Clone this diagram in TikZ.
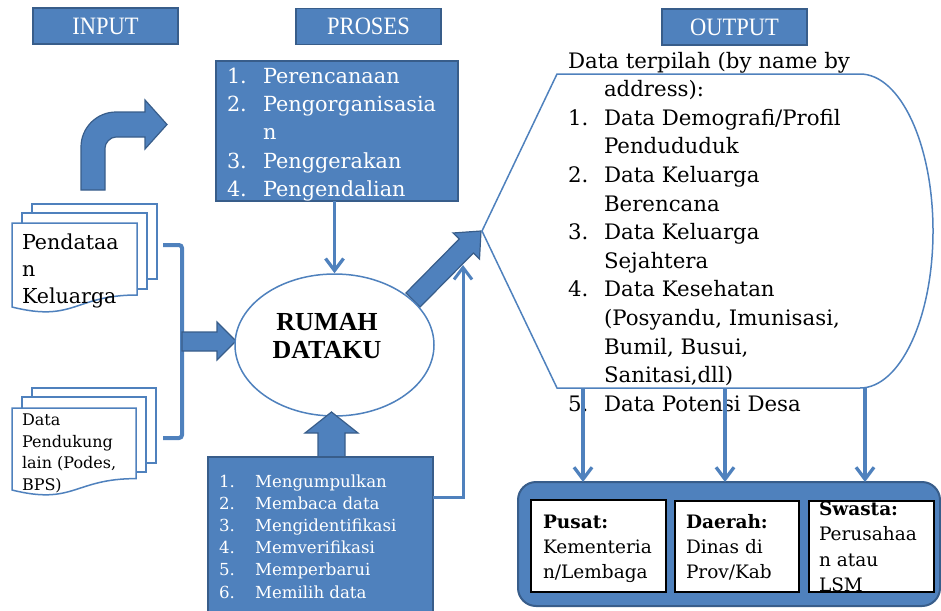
\documentclass[tikz,border=0pt]{standalone}
\usepackage{fontspec}
\setmainfont{DejaVu Serif}
\newfontfamily\timesf{Liberation Serif}
\newfontfamily\hdrfont[FakeStretch=0.9]{Liberation Serif}
\usetikzlibrary{arrows.meta,shapes.geometric}
\definecolor{bfill}{HTML}{4F81BD}
\definecolor{bdraw}{HTML}{385D8A}
\begin{document}
\begin{tikzpicture}[x=1pt,y=-1pt,
  bluebox/.style={draw=bdraw, fill=bfill, line width=1.2pt, inner sep=0pt, outer sep=0pt},
  hdr/.style={bluebox, minimum width=145pt, minimum height=36pt, text=white, font=\hdrfont\fontsize{25}{25}\selectfont},
  blockarrow/.style={draw=bdraw, fill=bfill, line width=1.2pt, line join=miter},
  thinarrow/.style={draw=bfill, line width=3.3pt, -{Straight Barb[length=12pt,width=18pt]}},
  docline/.style={draw=bfill, line width=1.5pt, fill=white},
  whitebox/.style={draw=black, fill=white, line width=1.6pt, inner sep=0pt, outer sep=0pt},
  txt/.style={anchor=base west, inner sep=0pt, outer sep=0pt},
]
\useasboundingbox (0,0) rectangle (941,610);

% headers
\node[hdr] (hin) at (105.5,26) {INPUT};
\node[hdr] (hpro) at (368.5,26.5) {PROSES};
\node[hdr] (hout) at (734.5,27) {OUTPUT};

% bent arrow
\draw[blockarrow] (81,190) -- (81,147) .. controls (81,127.7) and (96.7,112) .. (116,112)
  -- (145,112) -- (145,100) -- (167,124.5) -- (145,149) -- (145,137) -- (116,137)
  .. controls (109.9,137) and (105,143.1) .. (105,148) -- (105,190) -- cycle;

% document stack 1
\draw[docline] (32,204) rectangle (157,279);
\draw[docline] (22,213) rectangle (147,289);
\draw[docline] (12,223) -- (137,223) -- (137,295) .. controls (74.5,295) and (74.5,322.7) .. (12,307) -- cycle;
\begin{scope}[font=\fontsize{20.6}{24}\selectfont]
\node[txt] (d1a) at (22,249) {Pendataa};
\node[txt] (d1b) at (22,276) {n};
\node[txt] (d1c) at (22,303) {Keluarga};
\end{scope}

% document stack 2
\draw[docline] (32,388) rectangle (156,463);
\draw[docline] (22,397) rectangle (146,472);
\draw[docline] (12,408) -- (136,408) -- (136,478.6) .. controls (74,478.6) and (74,505.5) .. (12,490) -- cycle;
\begin{scope}[font=\fontsize{16}{20}\selectfont]
\node[txt] (d2a) at (22,425) {Data};
\node[txt] (d2b) at (22,447) {Pendukung};
\node[txt] (d2c) at (22,468.5) {lain (Podes,};
\node[txt] (d2d) at (22,490) {BPS)};
\end{scope}

% bracket and arrow to ellipse
\draw[draw=bfill, line width=4pt, rounded corners=3pt] (163,245) -- (182,245) -- (182,438) -- (163,438);
\draw[blockarrow] (182,332) -- (217,332) -- (217,322) -- (236,341) -- (217,360) -- (217,351) -- (182,351) -- cycle;

% process box top
\node[bluebox, minimum width=242pt, minimum height=140pt] (proc) at (337,131) {};
\begin{scope}[font=\fontsize{20.8}{25}\selectfont, text=white]
\foreach \n/\t [count=\i] in {1./Perencanaan, 2./Pengorganisasia, /n, 3./Penggerakan, 4./Pengendalian}{
  \node[txt] (pn\i) at (227,{83+(\i-1)*28.4}) {\n};
  \node[txt] (pt\i) at (263,{83+(\i-1)*28.4}) {\t};
}
\end{scope}

% diagonal block arrow
\draw[blockarrow] (405.9,293.0) -- (459.2,239.0) -- (453.1,233.0) -- (481,231) -- (479.5,259.0) -- (473.4,253.0) -- (420.1,307.0) -- cycle;

% ellipse
\node[draw=bfill, fill=white, line width=1.5pt, ellipse, minimum width=199pt, minimum height=142pt, inner sep=0pt] (rumah) at (334.5,345) {};
\node[anchor=base, inner sep=0pt, font=\timesf\bfseries\fontsize{26}{28}\selectfont] (r1) at (327,330) {RUMAH};
\node[anchor=base, inner sep=0pt, font=\timesf\bfseries\fontsize{26}{28}\selectfont] (r2) at (327,358) {DATAKU};

% process -> ellipse
\draw[thinarrow] (rumah.north |- proc.south) -- (rumah.north);

% up block arrow
\draw[blockarrow] (318,460) -- (318,433) -- (305,433) -- (331.5,412) -- (358,433) -- (345,433) -- (345,460) -- cycle;

% bottom process box
\node[bluebox, minimum width=225pt, minimum height=158pt] (bproc) at (320.5,536) {};
\begin{scope}[font=\fontsize{16.6}{20}\selectfont, text=white]
\foreach \n/\t [count=\i] in {1./Mengumpulkan, 2./Membaca data, 3./Mengidentifikasi, 4./Memverifikasi, 5./Memperbarui, 6./Memilih data}{
  \node[txt] (bn\i) at (219,{487+(\i-1)*22.2}) {\n};
  \node[txt] (bt\i) at (255,{487+(\i-1)*22.2}) {\t};
}
\end{scope}
\coordinate (uptip) at (463,265);
\draw[thinarrow, line width=3pt] ([yshift=-40pt]bproc.north east) -| (uptip);

% output display shape
\draw[draw=bfill, line width=1.5pt] (482,231) -- (557,74) -- (860,74) .. controls (900.3,74) and (933,144.3) .. (933,231)
  .. controls (933,317.7) and (900.3,388) .. (860,388) -- (557,388) -- cycle;
\begin{scope}[font=\fontsize{21.3}{26}\selectfont]
\node[txt] (o0) at (568,68) {Data terpilah (by name by};
\node[txt] (o1) at (604,96.6) {address):};
\node[txt] (o2n) at (568,125.2) {1.};
\node[txt] (o2) at (604,125.2) {Data Demografi/Profil};
\node[txt] (o3) at (604,153.8) {Pendududuk};
\node[txt] (o4n) at (568,182.4) {2.};
\node[txt] (o4) at (604,182.4) {Data Keluarga};
\node[txt] (o5) at (604,211) {Berencana};
\node[txt] (o6n) at (568,239.6) {3.};
\node[txt] (o6) at (604,239.6) {Data Keluarga};
\node[txt] (o7) at (604,268.2) {Sejahtera};
\node[txt] (o8n) at (568,296.8) {4.};
\node[txt] (o8) at (604,296.8) {Data Kesehatan};
\node[txt] (o9) at (604,325.4) {(Posyandu, Imunisasi,};
\node[txt] (o10) at (604,354) {Bumil, Busui,};
\node[txt] (o11) at (604,382.6) {Sanitasi,dll)};
\node[txt] (o12n) at (568,411.2) {5.};
\node[txt] (o12) at (604,411.2) {Data Potensi Desa};
\end{scope}

% output container
\node[bluebox, rounded corners=18pt, minimum width=422pt, minimum height=124pt, line width=2pt] (cont) at (729,544) {};
\node[whitebox, minimum width=135pt, minimum height=92pt] (pusat) at (598.5,546) {};
\node[whitebox, minimum width=124pt, minimum height=91pt] (daerah) at (737,546.5) {};
\node[whitebox, minimum width=125pt, minimum height=91pt] (swasta) at (871.5,546.5) {};
\begin{scope}[font=\fontsize{18.5}{22}\selectfont]
\node[txt] (pu1) at (543,528) {\textbf{Pusat:}};
\node[txt] (pu2) at (543,553) {Kementeria};
\node[txt] (pu3) at (543,578) {n/Lembaga};
\node[txt] (da1) at (686,528) {\textbf{Daerah:}};
\node[txt] (da2) at (686,553) {Dinas di};
\node[txt] (da3) at (686,578) {Prov/Kab};
\begin{scope}
\clip (809,501) rectangle (934,592);
\node[txt] (sw1) at (819,515) {\textbf{Swasta:}};
\node[txt] (sw2) at (819,540) {Perusahaa};
\node[txt] (sw3) at (819,566) {n atau};
\node[txt] (sw4) at (819,591) {LSM};
\end{scope}
\end{scope}

% arrows to container
\coordinate (v1) at (583,388);
\coordinate (v2) at (725,388);
\coordinate (v3) at (865,388);
\draw[thinarrow] (v1) -- (v1 |- cont.north);
\draw[thinarrow] (v2) -- (v2 |- cont.north);
\draw[thinarrow] (v3) -- (v3 |- cont.north);
\end{tikzpicture}
\end{document}
